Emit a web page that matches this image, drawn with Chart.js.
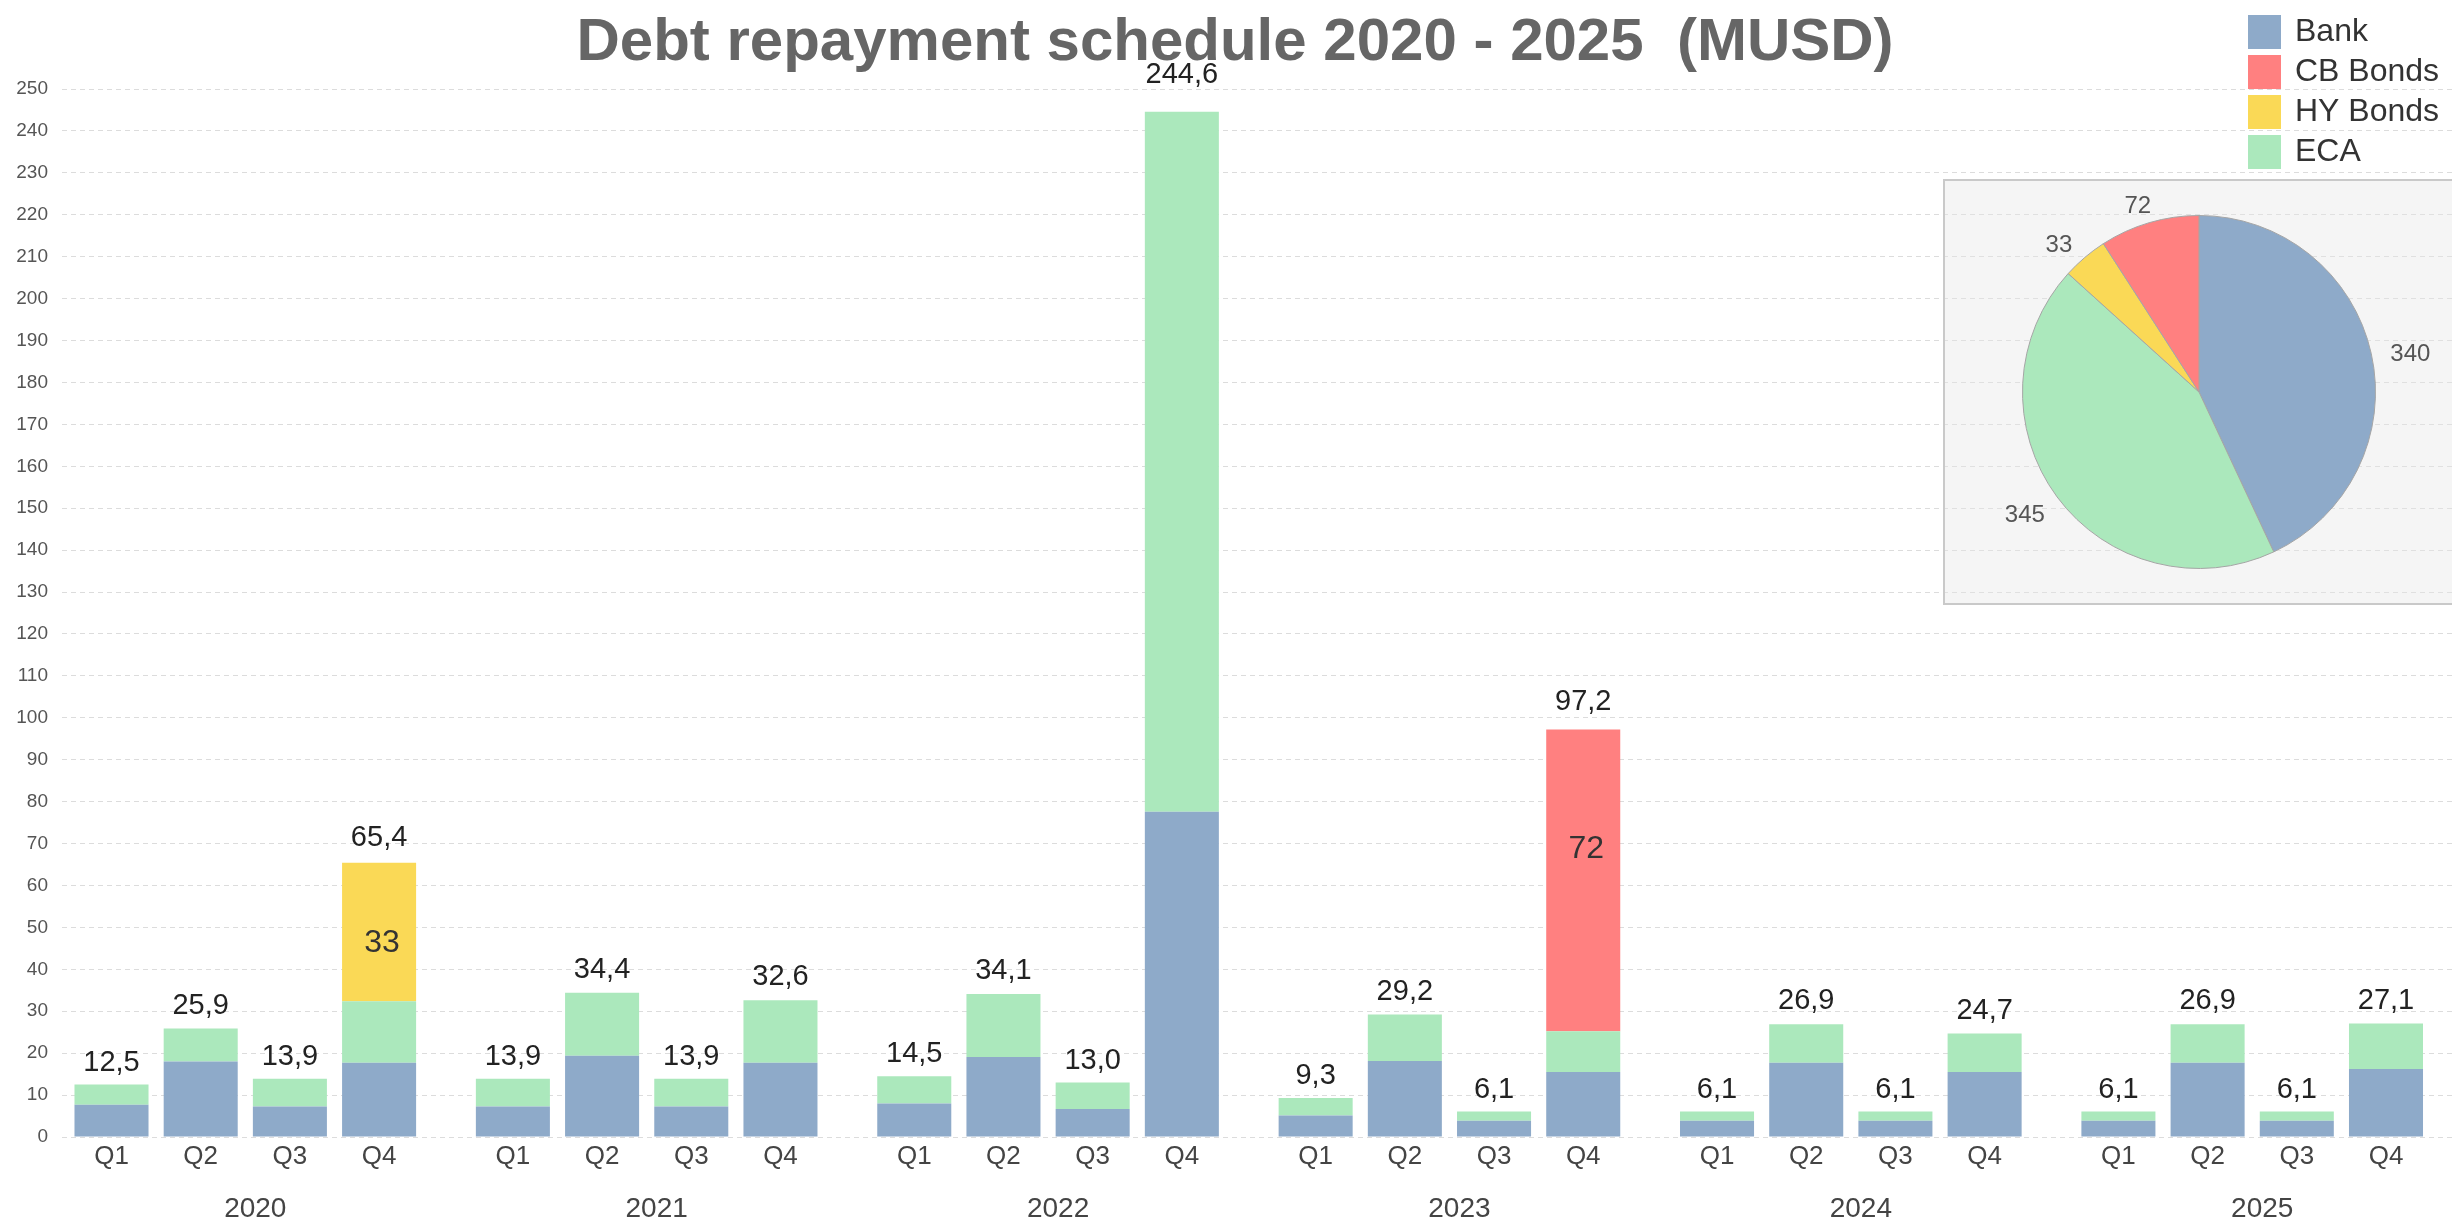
<!DOCTYPE html>
<html>
<head>
<meta charset="utf-8">
<script src="https://cdn.jsdelivr.net/npm/chart.js@4/dist/chart.umd.min.js"></script>
<style>
html,body{margin:0;padding:0;background:#fff;overflow:hidden;}
#wrap{position:relative;width:2452px;height:1218px;overflow:hidden;}
#main{position:absolute;left:0;top:0;}
#pieBox{position:absolute;left:1943px;top:179px;width:530px;height:426px;box-sizing:border-box;border:2px solid #c9c9c9;background:rgba(230,230,230,0.4);}
#pie{position:absolute;left:1943px;top:179px;}
</style>
</head>
<body>
<div id="wrap">
  <canvas id="main" width="2452" height="1218"></canvas>
  <div id="pieBox"></div>
  <canvas id="pie" width="509" height="426"></canvas>
</div>
<script>
// ---------- DATA ----------
const quarterLabels = ['Q1', 'Q2', 'Q3', 'Q4'];
const yearLabels = ['2020', '2021', '2022', '2023', '2024', '2025'];
const titleText = 'Debt repayment schedule 2020 - 2025  (MUSD)';

// quarterly values, 2020 Q1 ... 2025 Q4
const bankValues = [7.7, 18.0, 7.3, 17.7,  7.3, 19.4, 7.3, 17.7,  8.0, 19.1, 6.7, 77.6,  5.1, 18.1, 3.9, 15.5,  3.9, 17.7, 3.9, 15.5,  3.9, 17.7, 3.9, 16.2];
const ecaValues  = [4.8, 7.9, 6.6, 14.7,   6.6, 15.0, 6.6, 14.9,  6.5, 15.0, 6.3, 167.0, 4.2, 11.1, 2.2, 9.7,   2.2, 9.2, 2.2, 9.2,     2.2, 9.2, 2.2, 10.9];
const hyBondValues = [0, 0, 0, 33,  0, 0, 0, 0,  0, 0, 0, 0,  0, 0, 0, 0,  0, 0, 0, 0,  0, 0, 0, 0];
const cbBondValues = [0, 0, 0, 0,   0, 0, 0, 0,  0, 0, 0, 0,  0, 0, 0, 72, 0, 0, 0, 0,  0, 0, 0, 0];

// y axis
const yMin = 0, yMax = 250, yStep = 10;

// pie (clockwise from top)
const pieLabels = ['Bank', 'ECA', 'HY Bonds', 'CB Bonds'];
const pieValues = [340, 345, 33, 72];

const legendOrder = ['Bank', 'CB Bonds', 'HY Bonds', 'ECA'];
const seriesColors = {
  'Bank': '#8eaac9',
  'CB Bonds': '#ff8080',
  'HY Bonds': '#fad956',
  'ECA': '#abe8bc'
};

// ---------- LAYOUT HELPERS ----------
const FONT = "'Liberation Sans', Arial, Helvetica, sans-serif";
Chart.defaults.font.family = FONT;
const groupGap = 0.5; // extra slot fraction between years
function slotOf(i) { return Math.floor(i / quarterLabels.length) * (quarterLabels.length + groupGap) + (i % quarterLabels.length); }
const barSlots = bankValues.map((v, i) => slotOf(i));
const yearSlots = yearLabels.map((y, g) => g * (quarterLabels.length + groupGap) + (quarterLabels.length - 1) / 2);
const xMin = -0.555, xMax = 26.24;

function toPoints(arr) { return arr.map((v, i) => ({ x: barSlots[i], y: v })); }
function fmt(v) { return v.toFixed(1).replace('.', ','); }

const titlePlugin = {
  id: 'bigTitle',
  afterDraw(chart) {
    const ctx = chart.ctx;
    ctx.save();
    ctx.font = 'bold 60px ' + FONT;
    ctx.fillStyle = '#666';
    ctx.textAlign = 'center';
    ctx.textBaseline = 'alphabetic';
    ctx.fillText(titleText, 1235, 60);
    ctx.restore();
  }
};

const barLabelPlugin = {
  id: 'barLabels',
  afterDatasetsDraw(chart) {
    const ctx = chart.ctx;
    const ys = chart.scales.y;
    ctx.save();
    ctx.textAlign = 'center';
    ctx.textBaseline = 'middle';
    for (let i = 0; i < bankValues.length; i++) {
      let total = 0, xPix = null;
      chart.data.datasets.forEach((ds, d) => {
        const v = ds.data[i].y;
        if (!v) return;
        total += v;
        xPix = chart.getDatasetMeta(d).data[i].x;
      });
      ctx.font = '29px ' + FONT;
      ctx.fillStyle = '#222';
      ctx.fillText(fmt(total), xPix, ys.getPixelForValue(total * 1.0155) - 21);
      chart.data.datasets.forEach((ds, d) => {
        if (!ds.showValue) return;
        const v = ds.data[i].y;
        if (!v) return;
        const el = chart.getDatasetMeta(d).data[i];
        ctx.font = '32px ' + FONT;
        ctx.fillStyle = '#333';
        ctx.fillText(String(v), el.x + 3, ys.getPixelForValue(total * 0.707));
      });
    }
    ctx.restore();
  }
};

const legendPlugin = {
  id: 'cornerLegend',
  afterDraw(chart) {
    const ctx = chart.ctx;
    ctx.save();
    ctx.textAlign = 'left';
    ctx.textBaseline = 'middle';
    ctx.font = '32px ' + FONT;
    legendOrder.forEach((lab, k) => {
      const ds = chart.data.datasets.find(d => d.label === lab);
      const top = 15 + k * 40;
      ctx.fillStyle = ds.backgroundColor;
      ctx.fillRect(2248, top, 33, 34);
      ctx.fillStyle = '#333';
      ctx.fillText(lab, 2295, top + 17);
    });
    ctx.restore();
  }
};

new Chart(document.getElementById('main'), {
  type: 'bar',
  data: {
    datasets: [
      { label: 'Bank', data: toPoints(bankValues), backgroundColor: seriesColors['Bank'] },
      { label: 'ECA', data: toPoints(ecaValues), backgroundColor: seriesColors['ECA'] },
      { label: 'HY Bonds', data: toPoints(hyBondValues), backgroundColor: seriesColors['HY Bonds'], showValue: true },
      { label: 'CB Bonds', data: toPoints(cbBondValues), backgroundColor: seriesColors['CB Bonds'], showValue: true }
    ]
  },
  options: {
    responsive: false,
    animation: false,
    layout: { padding: { left: 0, right: 0, top: 89, bottom: 0 } },
    datasets: { bar: { barPercentage: 0.83, categoryPercentage: 1.0, borderWidth: 0 } },
    plugins: {
      legend: { display: false },
      tooltip: { enabled: false },
      title: { display: false }
    },
    scales: {
      x: {
        type: 'linear',
        stacked: true,
        offset: false,
        min: xMin, max: xMax,
        weight: 1,
        grid: { display: false, drawTicks: false, offset: false },
        border: { display: false },
        afterBuildTicks(scale) { scale.ticks = barSlots.map(v => ({ value: v })); },
        afterFit(scale) { scale.height = 44; },
        ticks: {
          autoSkip: false, maxRotation: 0, padding: 4,
          color: '#444', font: { size: 26 },
          callback(value, index) { return quarterLabels[index % quarterLabels.length]; }
        }
      },
      x2: {
        type: 'linear',
        position: 'bottom',
        offset: false,
        min: xMin, max: xMax,
        weight: 2,
        grid: { display: false, drawTicks: false, offset: false },
        border: { display: false },
        afterBuildTicks(scale) { scale.ticks = yearSlots.map(v => ({ value: v })); },
        afterFit(scale) { scale.height = 37; },
        ticks: {
          autoSkip: false, maxRotation: 0, padding: 11, labelOffset: 10,
          color: '#444', font: { size: 28 },
          callback(value, index) { return yearLabels[index]; }
        }
      },
      y: {
        stacked: true,
        min: yMin, max: yMax,
        afterFit(scale) { scale.width = 62; },
        grid: { color: '#dcdcdc', lineWidth: 1, drawTicks: false },
        border: { display: false, dash: [5, 4] },
        ticks: { stepSize: yStep, padding: 14, color: '#555', font: { size: 19 } }
      }
    }
  },
  plugins: [barLabelPlugin, legendPlugin, titlePlugin]
});

const pieLabelPlugin = {
  id: 'pieLabels',
  afterDatasetsDraw(chart) {
    const ctx = chart.ctx;
    const meta = chart.getDatasetMeta(0);
    ctx.save();
    ctx.font = '24px ' + FONT;
    ctx.fillStyle = '#555';
    ctx.textAlign = 'center';
    ctx.textBaseline = 'middle';
    meta.data.forEach((arc, i) => {
      const mid = (arc.startAngle + arc.endAngle) / 2;
      const r = arc.outerRadius;
      ctx.fillText(String(pieValues[i]), arc.x + Math.cos(mid) * (r + 40), arc.y + Math.sin(mid) * (r + 22) + 5);
    });
    ctx.restore();
  }
};

new Chart(document.getElementById('pie'), {
  type: 'pie',
  data: {
    labels: pieLabels,
    datasets: [{
      data: pieValues,
      backgroundColor: pieLabels.map(l => seriesColors[l]),
      borderColor: '#a5a5a5',
      borderWidth: 1
    }]
  },
  options: {
    responsive: false,
    animation: false,
    layout: { padding: { left: 38, right: 35, top: 36, bottom: 36 } },
    plugins: { legend: { display: false }, tooltip: { enabled: false }, title: { display: false } }
  },
  plugins: [pieLabelPlugin]
});
</script>
</body>
</html>
